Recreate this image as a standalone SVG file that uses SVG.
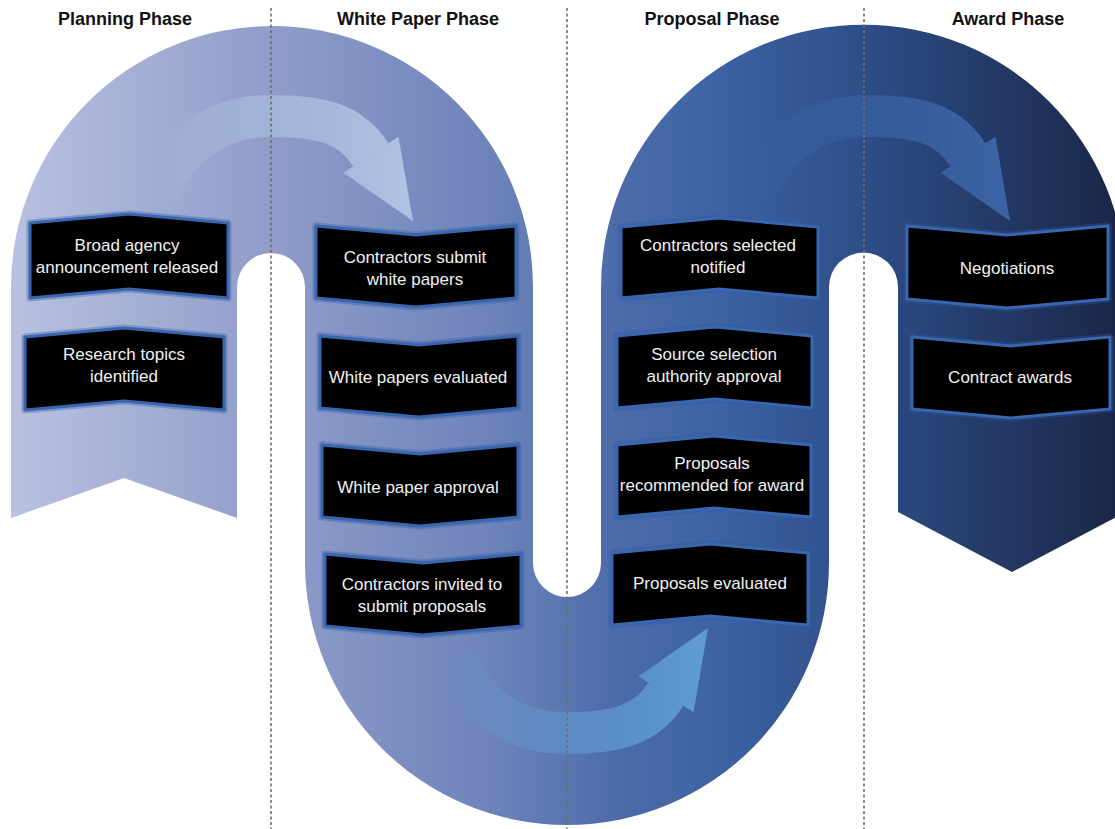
<svg xmlns="http://www.w3.org/2000/svg" width="1115" height="829" viewBox="0 0 1115 829">
  <style>
    .hdr { font-family: "Liberation Sans", Arial, sans-serif; font-size: 18px; font-weight: bold; fill: #111; text-anchor: middle; }
    .lbl { font-family: "Liberation Sans", Arial, sans-serif; font-size: 17px; fill: #f2f2f2; text-anchor: middle; }
    .box { fill: #000; stroke: #3866b0; stroke-width: 3; stroke-linejoin: round; }
    .glow { fill: none; stroke: #2f5aa0; stroke-width: 7; stroke-linejoin: round; opacity: 0.35; }
    .divider { stroke: #6e6e6e; stroke-width: 1.6; stroke-dasharray: 3 2.5; fill: none; }
  </style>
  <defs>
    <!-- band shading, light lavender to deep navy -->
    <linearGradient id="bandGrad" gradientUnits="userSpaceOnUse" x1="10" y1="0" x2="1126" y2="0">
      <stop offset="0" stop-color="#b8c1e0"/>
      <stop offset="0.24" stop-color="#8f9cc9"/>
      <stop offset="0.44" stop-color="#6b82b9"/>
      <stop offset="0.54" stop-color="#4d6ca9"/>
      <stop offset="0.64" stop-color="#3c62a2"/>
      <stop offset="0.77" stop-color="#2d4d86"/>
      <stop offset="1" stop-color="#1a2546"/>
    </linearGradient>
    <!-- fade-in of the curved flow arrows -->
    <linearGradient id="fadeGrad" gradientUnits="userSpaceOnUse" x1="150" y1="0" x2="415" y2="0">
      <stop offset="0" stop-color="#000"/>
      <stop offset="0.19" stop-color="#404040"/>
      <stop offset="0.45" stop-color="#808080"/>
      <stop offset="0.95" stop-color="#e6e6e6"/>
      <stop offset="1" stop-color="#e6e6e6"/>
    </linearGradient>
    <mask id="fade" maskUnits="userSpaceOnUse" x="100" y="40" width="360" height="230">
      <rect x="100" y="40" width="360" height="230" fill="url(#fadeGrad)"/>
    </mask>
  </defs>

  <!-- serpentine band -->
  <g id="band">
    <path fill="url(#bandGrad)" d="M 11 518 L 11 287 A 261 261 0 0 1 533 287 L 533 563 A 34 34 0 0 0 601 563 L 601 287 A 262.5 262.5 0 0 1 1126 287 L 1126 512 L 1012 572 L 898 512 L 898 287 A 34.5 34.5 0 0 0 829 287 L 829 563 A 262 262 0 0 1 305 563 L 305 287 A 34 34 0 0 0 237 287 L 237 518 L 124 478 Z"/>
  </g>

  <!-- curved flow arrows -->
  <g id="connectors">
    <g id="arrow-planning-whitepaper" mask="url(#fade)" fill="#b4c8e6" stroke="#b4c8e6">
      <path d="M 158 194 C 180 140, 222 116, 270 116 C 318 116, 350 122, 371 155" fill="none" stroke-width="42"/>
      <path d="M 398.5 136.8 L 413 221 L 343.5 172.7 Z" stroke="none"/>
    </g>
    <g id="arrow-whitepaper-proposal" transform="translate(295 849) scale(1 -1)">
      <g mask="url(#fade)" fill="#62a0d8" stroke="#62a0d8">
        <path d="M 158 194 C 180 140, 222 116, 270 116 C 318 116, 350 122, 371 155" fill="none" stroke-width="42"/>
        <path d="M 398.5 136.8 L 413 221 L 343.5 172.7 Z" stroke="none"/>
      </g>
    </g>
    <g id="arrow-proposal-award" transform="translate(597 0)">
      <g mask="url(#fade)" fill="#3e69ad" stroke="#3e69ad">
        <path d="M 158 194 C 180 140, 222 116, 270 116 C 318 116, 350 122, 371 155" fill="none" stroke-width="42"/>
        <path d="M 398.5 136.8 L 413 221 L 343.5 172.7 Z" stroke="none"/>
      </g>
    </g>
  </g>

  <!-- phase dividers -->
  <g id="dividers">
    <line class="divider" x1="271" y1="8" x2="271" y2="829"/>
    <line class="divider" x1="567" y1="8" x2="567" y2="829"/>
    <line class="divider" x1="864" y1="8" x2="864" y2="829"/>
  </g>

  <!-- phase headings -->
  <g id="headers">
    <text class="hdr" x="125" y="25">Planning Phase</text>
    <text class="hdr" x="418" y="25">White Paper Phase</text>
    <text class="hdr" x="712" y="25">Proposal Phase</text>
    <text class="hdr" x="1008" y="25">Award Phase</text>
  </g>

  <!-- Planning phase steps (chevrons pointing up) -->
  <g id="node-broad-agency">
    <path class="glow" d="M 30 223 L 129 214 L 228 223 L 228 298 L 129 289 L 30 298 Z"/>
    <path class="box" d="M 30 223 L 129 214 L 228 223 L 228 298 L 129 289 L 30 298 Z"/>
    <text class="lbl" x="127" y="251">Broad agency</text>
    <text class="lbl" x="127" y="273">announcement released</text>
  </g>
  <g id="node-research-topics">
    <path class="glow" d="M 25 337 L 124 328 L 224 337 L 224 410 L 124 401 L 25 410 Z"/>
    <path class="box" d="M 25 337 L 124 328 L 224 337 L 224 410 L 124 401 L 25 410 Z"/>
    <text class="lbl" x="124" y="360">Research topics</text>
    <text class="lbl" x="124" y="382">identified</text>
  </g>

  <!-- White paper phase steps (chevrons pointing down) -->
  <g id="node-submit-white-papers">
    <path class="glow" d="M 316 226 L 416 235 L 516 226 L 516 298 L 416 307 L 316 298 Z"/>
    <path class="box" d="M 316 226 L 416 235 L 516 226 L 516 298 L 416 307 L 316 298 Z"/>
    <text class="lbl" x="415" y="263">Contractors submit</text>
    <text class="lbl" x="415" y="285">white papers</text>
  </g>
  <g id="node-white-papers-evaluated">
    <path class="glow" d="M 320 336 L 419 345 L 518 336 L 518 408 L 419 417 L 320 408 Z"/>
    <path class="box" d="M 320 336 L 419 345 L 518 336 L 518 408 L 419 417 L 320 408 Z"/>
    <text class="lbl" x="418" y="383">White papers evaluated</text>
  </g>
  <g id="node-white-paper-approval">
    <path class="glow" d="M 322 445 L 420 454 L 518 445 L 518 517 L 420 526 L 322 517 Z"/>
    <path class="box" d="M 322 445 L 420 454 L 518 445 L 518 517 L 420 526 L 322 517 Z"/>
    <text class="lbl" x="418" y="493">White paper approval</text>
  </g>
  <g id="node-invited-to-submit">
    <path class="glow" d="M 325 554 L 423 563 L 521 554 L 521 626 L 423 635 L 325 626 Z"/>
    <path class="box" d="M 325 554 L 423 563 L 521 554 L 521 626 L 423 635 L 325 626 Z"/>
    <text class="lbl" x="422" y="590">Contractors invited to</text>
    <text class="lbl" x="422" y="612">submit proposals</text>
  </g>

  <!-- Proposal phase steps (chevrons pointing up) -->
  <g id="node-contractors-notified">
    <path class="glow" d="M 621 227 L 719 218 L 818 227 L 818 298 L 719 289 L 621 298 Z"/>
    <path class="box" d="M 621 227 L 719 218 L 818 227 L 818 298 L 719 289 L 621 298 Z"/>
    <text class="lbl" x="718" y="251">Contractors selected</text>
    <text class="lbl" x="718" y="273">notified</text>
  </g>
  <g id="node-source-selection">
    <path class="glow" d="M 617 336 L 715 327 L 812 336 L 812 408 L 715 399 L 617 408 Z"/>
    <path class="box" d="M 617 336 L 715 327 L 812 336 L 812 408 L 715 399 L 617 408 Z"/>
    <text class="lbl" x="714" y="360">Source selection</text>
    <text class="lbl" x="714" y="382">authority approval</text>
  </g>
  <g id="node-recommended-for-award">
    <path class="glow" d="M 617 445 L 714 436 L 811 445 L 811 517 L 714 508 L 617 517 Z"/>
    <path class="box" d="M 617 445 L 714 436 L 811 445 L 811 517 L 714 508 L 617 517 Z"/>
    <text class="lbl" x="712" y="469">Proposals</text>
    <text class="lbl" x="712" y="491">recommended for award</text>
  </g>
  <g id="node-proposals-evaluated">
    <path class="glow" d="M 612 553 L 710 544 L 808 553 L 808 625 L 710 616 L 612 625 Z"/>
    <path class="box" d="M 612 553 L 710 544 L 808 553 L 808 625 L 710 616 L 612 625 Z"/>
    <text class="lbl" x="710" y="589">Proposals evaluated</text>
  </g>

  <!-- Award phase steps (chevrons pointing down) -->
  <g id="node-negotiations">
    <path class="glow" d="M 907 226 L 1007 235 L 1108 226 L 1108 299 L 1007 308 L 907 299 Z"/>
    <path class="box" d="M 907 226 L 1007 235 L 1108 226 L 1108 299 L 1007 308 L 907 299 Z"/>
    <text class="lbl" x="1007" y="274">Negotiations</text>
  </g>
  <g id="node-contract-awards">
    <path class="glow" d="M 912 337 L 1011 346 L 1110 337 L 1110 409 L 1011 418 L 912 409 Z"/>
    <path class="box" d="M 912 337 L 1011 346 L 1110 337 L 1110 409 L 1011 418 L 912 409 Z"/>
    <text class="lbl" x="1010" y="383">Contract awards</text>
  </g>
</svg>
